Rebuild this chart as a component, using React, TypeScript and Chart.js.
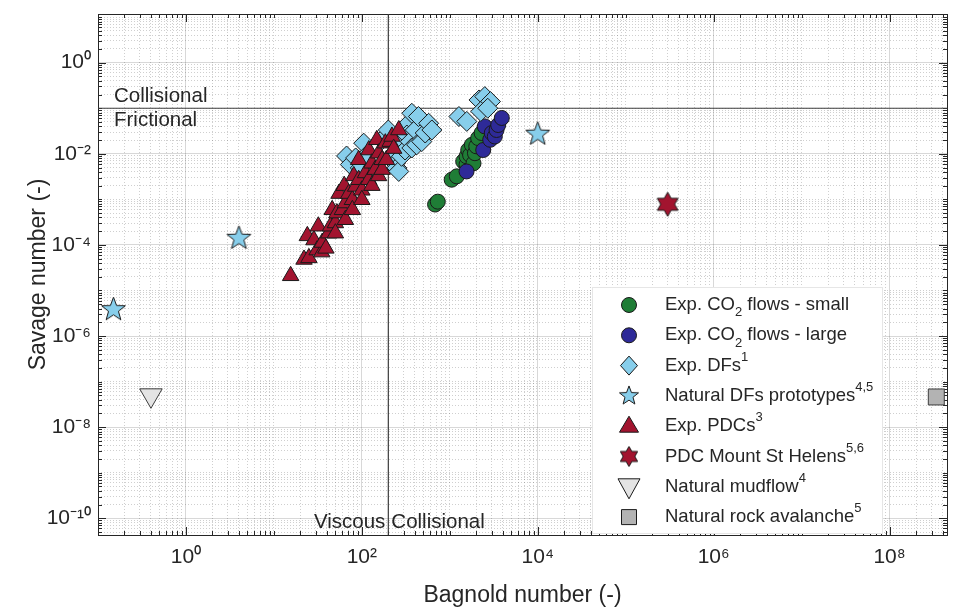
import React, { useEffect, useRef } from 'react';
import { Chart, registerables } from 'chart.js';

Chart.register(...registerables);

// ---------------- data ----------------
const X_MIN = 0.1;
const X_MAX = 4.5e8;
const Y_MIN = 4.3e-11;
const Y_MAX = 11.7;
const BAGNOLD_LIMIT = 200;
const SAVAGE_LIMIT = 0.1;

const co2SmallX = [680, 730, 1050, 1200, 1420, 1550, 1550, 1620, 1700, 1780, 1860, 1930, 2000, 2100, 2300];
const co2SmallY = [7.7e-4, 8.9e-4, 2.7e-3, 3.2e-3, 6.8e-3, 5.8e-3, 8.8e-3, 0.0121, 9.4e-3, 0.0157, 6.2e-3, 0.0103, 0.0146, 0.0221, 0.0286];

const co2LargeX = [1550, 2400, 2500, 2880, 3000, 3250, 3400, 3550, 3900];
const co2LargeY = [4.1e-3, 0.0121, 0.0399, 0.0203, 0.0286, 0.024, 0.0333, 0.0428, 0.0611];

const expDFsX = [67, 74, 85, 96, 105, 110, 170, 200, 220, 240, 250, 263, 275, 283, 310, 325, 325, 355, 370, 370, 405, 420, 440, 480, 525, 575, 625, 1270, 1560, 2150, 2500, 2900, 2250, 2700];
const expDFsY = [8.95e-3, 5.8e-3, 8.1e-3, 4.9e-3, 0.0171, 8.8e-3, 0.0203, 0.0333, 7.4e-3, 6.2e-3, 4.9e-3, 4.1e-3, 0.0171, 8.8e-3, 0.0121, 0.0428, 0.0258, 0.0185, 0.0775, 0.0134, 0.0333, 0.0157, 0.0658, 0.0185, 0.0286, 0.0467, 0.0333, 0.0658, 0.0514, 0.152, 0.18, 0.14, 0.085, 0.1];

const naturalDFsX = [0.15, 4, 1e4];
const naturalDFsY = [3.8e-6, 1.4e-4, 0.027];

const expPDCsX = [15.5, 22, 25, 24, 28.5, 31, 32, 35, 35.5, 39, 42, 44, 46, 50, 50, 52, 55, 60, 63, 65, 65, 71, 78, 78, 81, 85, 92, 92, 100, 100, 110, 120, 120, 130, 130, 142, 148, 155, 155, 170, 170, 185, 190, 210, 220, 230, 263];
const expPDCsY = [2.1e-5, 4.8e-5, 5.2e-5, 1.58e-4, 1.28e-4, 7.7e-5, 2.57e-4, 6.95e-5, 1.13e-4, 8.4e-5, 1.81e-4, 2.57e-4, 5.9e-4, 3.03e-4, 1.81e-4, 5e-4, 1.34e-3, 5.9e-4, 2e-3, 8.3e-4, 3.57e-4, 1.34e-3, 9.8e-4, 5.9e-4, 3.27e-3, 1.92e-3, 2.7e-3, 7.4e-3, 1.58e-3, 9.8e-4, 3.8e-3, 2.7e-3, 0.0121, 6.2e-3, 2e-3, 4.5e-3, 0.0203, 0.0103, 3.27e-3, 7.4e-3, 4.5e-3, 0.0171, 7.4e-3, 0.0185, 0.024, 0.013, 0.0333];

const stHelensX = [3e5];
const stHelensY = [7.8e-4];

const mudflowX = [0.4];
const mudflowY = [5e-8];

const rockAvalancheX = [3.4e8];
const rockAvalancheY = [4.6e-8];

// ---------------- styles ----------------
const FONT = '"Liberation Sans", Arial, Helvetica, sans-serif';
const INK = '#262626';
const EDGE = '#1a1a1a';
const C_GREEN = '#1f7d36';
const C_BLUE = '#2e2a98';
const C_LIGHTBLUE = '#87ceeb';
const C_RED = '#a2142f';
const C_MUD = '#e4e4e4';
const C_ROCK = '#b3b3b3';

const SUP: Record<string, string> = { '0': '⁰', '1': '¹', '2': '²', '3': '³', '4': '⁴', '5': '⁵', '6': '⁶', '7': '⁷', '8': '⁸', '9': '⁹', '-': '⁻' };

function isDecade(v: number) {
  const l = Math.log10(v);
  return Math.abs(l - Math.round(l)) < 1e-6;
}
function isMajor(v: number) {
  if (!isDecade(v)) return false;
  return Math.abs(Math.round(Math.log10(v)) % 2) === 0;
}
function logTicks(min: number, max: number) {
  const out: number[] = [];
  for (let e = Math.floor(Math.log10(min)); e <= Math.ceil(Math.log10(max)); e++) {
    for (let m = 1; m <= 9; m++) {
      const v = m * Math.pow(10, e);
      if (v >= min * 0.999999 && v <= max * 1.000001) out.push(v);
    }
  }
  return out;
}
function tickLabel(v: number) {
  if (!isMajor(v)) return '';
  const e = String(Math.round(Math.log10(v)));
  return '10' + e.split('').map((c) => SUP[c]).join('');
}

function pts(xs: number[], ys: number[]) {
  return xs.map((x, i) => ({ x, y: ys[i] }));
}

function makeStar(n: number, outer: number, inner: number, fill: string) {
  const size = Math.ceil(outer * 2 + 4);
  const c = document.createElement('canvas');
  c.width = size;
  c.height = size;
  const g = c.getContext('2d')!;
  const cx = size / 2;
  g.beginPath();
  for (let i = 0; i < 2 * n; i++) {
    const r = i % 2 === 0 ? outer : inner;
    const a = -Math.PI / 2 + (i * Math.PI) / n;
    const px = cx + r * Math.cos(a);
    const py = cx + r * Math.sin(a);
    if (i === 0) g.moveTo(px, py);
    else g.lineTo(px, py);
  }
  g.closePath();
  g.fillStyle = fill;
  g.fill();
  g.lineWidth = 1;
  g.strokeStyle = EDGE;
  g.stroke();
  return c;
}

type Seg = { t: string; m?: 'sup' | 'sub' };

function drawSegs(ctx: CanvasRenderingContext2D, segs: Seg[], x: number, y: number, size: number, align: 'left' | 'right' = 'left') {
  const small = Math.round(size * 0.68);
  const widths = segs.map((s) => {
    ctx.font = `${s.m ? small : size}px ${FONT}`;
    return ctx.measureText(s.t).width;
  });
  const total = widths.reduce((a, b) => a + b, 0);
  let cx = align === 'left' ? x : x - total;
  ctx.textAlign = 'left';
  ctx.textBaseline = 'middle';
  segs.forEach((s, i) => {
    ctx.font = `${s.m ? small : size}px ${FONT}`;
    const dy = s.m === 'sup' ? -size * 0.45 : s.m === 'sub' ? size * 0.42 : 0;
    ctx.fillText(s.t, cx, y + dy);
    cx += widths[i];
  });
}

export default function App() {
  const ref = useRef<HTMLCanvasElement>(null);

  useEffect(() => {
    if (!ref.current) return;
    const starBig = makeStar(5, 12.5, 5.2, C_LIGHTBLUE);
    const starLegend = makeStar(5, 10, 4.2, C_LIGHTBLUE);
    const hexBig = makeStar(6, 12, 6.9, C_RED);
    const hexLegend = makeStar(6, 10, 5.8, C_RED);

    const legendItems: { segs: Seg[]; draw: (ctx: CanvasRenderingContext2D, x: number, y: number) => void }[] = [
      {
        segs: [{ t: 'Exp. CO' }, { t: '2', m: 'sub' }, { t: ' flows - small' }],
        draw: (ctx, x, y) => { ctx.beginPath(); ctx.arc(x, y, 7.5, 0, Math.PI * 2); ctx.fillStyle = C_GREEN; ctx.fill(); ctx.stroke(); },
      },
      {
        segs: [{ t: 'Exp. CO' }, { t: '2', m: 'sub' }, { t: ' flows - large' }],
        draw: (ctx, x, y) => { ctx.beginPath(); ctx.arc(x, y, 7.5, 0, Math.PI * 2); ctx.fillStyle = C_BLUE; ctx.fill(); ctx.stroke(); },
      },
      {
        segs: [{ t: 'Exp. DFs' }, { t: '1', m: 'sup' }],
        draw: (ctx, x, y) => {
          ctx.beginPath(); ctx.moveTo(x, y - 9.5); ctx.lineTo(x + 8.5, y); ctx.lineTo(x, y + 9.5); ctx.lineTo(x - 8.5, y); ctx.closePath();
          ctx.fillStyle = C_LIGHTBLUE; ctx.fill(); ctx.stroke();
        },
      },
      {
        segs: [{ t: 'Natural DFs prototypes' }, { t: '4,5', m: 'sup' }],
        draw: (ctx, x, y) => { ctx.drawImage(starLegend, x - starLegend.width / 2, y - starLegend.height / 2); },
      },
      {
        segs: [{ t: 'Exp. PDCs' }, { t: '3', m: 'sup' }],
        draw: (ctx, x, y) => {
          ctx.beginPath(); ctx.moveTo(x, y - 10); ctx.lineTo(x + 9.5, y + 6); ctx.lineTo(x - 9.5, y + 6); ctx.closePath();
          ctx.fillStyle = C_RED; ctx.fill(); ctx.stroke();
        },
      },
      {
        segs: [{ t: 'PDC Mount St Helens' }, { t: '5,6', m: 'sup' }],
        draw: (ctx, x, y) => { ctx.drawImage(hexLegend, x - hexLegend.width / 2, y - hexLegend.height / 2); },
      },
      {
        segs: [{ t: 'Natural mudflow' }, { t: '4', m: 'sup' }],
        draw: (ctx, x, y) => {
          ctx.beginPath(); ctx.moveTo(x - 11, y - 8); ctx.lineTo(x + 11, y - 8); ctx.lineTo(x, y + 12); ctx.closePath();
          ctx.fillStyle = C_MUD; ctx.fill(); ctx.stroke();
        },
      },
      {
        segs: [{ t: 'Natural rock avalanche' }, { t: '5', m: 'sup' }],
        draw: (ctx, x, y) => { ctx.beginPath(); ctx.rect(x - 7.5, y - 7.5, 15, 15); ctx.fillStyle = C_ROCK; ctx.fill(); ctx.stroke(); },
      },
    ];

    const framePlugin = {
      id: 'frame',
      beforeDatasetsDraw(chart: any) {
        const { ctx, chartArea: a, scales } = chart;
        ctx.save();
        ctx.strokeStyle = INK;
        ctx.lineWidth = 1;
        ctx.beginPath();
        for (const t of scales.x.ticks) {
          const px = Math.round(scales.x.getPixelForValue(t.value)) + 0.5;
          if (px <= a.left + 1 || px >= a.right - 1) continue;
          const len = isMajor(t.value) ? 8 : 4;
          ctx.moveTo(px, a.bottom); ctx.lineTo(px, a.bottom - len);
          ctx.moveTo(px, a.top); ctx.lineTo(px, a.top + len);
        }
        for (const t of scales.y.ticks) {
          const py = Math.round(scales.y.getPixelForValue(t.value)) + 0.5;
          if (py <= a.top + 1 || py >= a.bottom - 1) continue;
          const len = isMajor(t.value) ? 8 : 4;
          ctx.moveTo(a.left, py); ctx.lineTo(a.left + len, py);
          ctx.moveTo(a.right, py); ctx.lineTo(a.right - len, py);
        }
        ctx.stroke();
        ctx.strokeRect(Math.round(a.left) + 0.5, Math.round(a.top) + 0.5, Math.round(a.right - a.left), Math.round(a.bottom - a.top));
        ctx.restore();
      },
      afterDatasetsDraw(chart: any) {
        const { ctx, chartArea: a, scales } = chart;
        ctx.save();
        ctx.fillStyle = INK;
        const ly = scales.y.getPixelForValue(SAVAGE_LIMIT);
        const lx = scales.x.getPixelForValue(BAGNOLD_LIMIT);
        drawSegs(ctx, [{ t: 'Collisional' }], a.left + 16, ly - 12, 20.5);
        drawSegs(ctx, [{ t: 'Frictional' }], a.left + 16, ly + 12, 20.5);
        drawSegs(ctx, [{ t: 'Viscous' }], lx - 3, a.bottom - 13, 20.5, 'right');
        drawSegs(ctx, [{ t: 'Collisional' }], lx + 3, a.bottom - 13, 20.5);

        // legend
        const bx = a.right - 355;
        const by = a.top + 273;
        const bw = 290;
        const bh = 246;
        ctx.fillStyle = '#ffffff';
        ctx.fillRect(bx, by, bw, bh);
        ctx.strokeStyle = '#e6e6e6';
        ctx.lineWidth = 1;
        ctx.strokeRect(bx + 0.5, by + 0.5, bw, bh);
        legendItems.forEach((it, i) => {
          const y = by + 18 + i * 30.3;
          ctx.strokeStyle = EDGE;
          ctx.lineWidth = 1;
          it.draw(ctx, bx + 37, y);
          ctx.fillStyle = INK;
          drawSegs(ctx, it.segs, bx + 73, y, 18.5);
        });
        ctx.restore();
      },
    };

    const scaleCommon = (min: number, max: number) => ({
      type: 'logarithmic' as const,
      min,
      max,
      afterBuildTicks: (s: any) => {
        s.ticks = logTicks(min, max).map((v) => ({ value: v }));
      },
      grid: {
        drawTicks: false,
        lineWidth: 1,
        color: (c: any) => (c.tick && isMajor(c.tick.value) ? 'rgba(38,38,38,0.18)' : 'rgba(38,38,38,0.22)'),
      },
      border: {
        display: false,
        dash: (c: any) => (c.tick && isMajor(c.tick.value) ? [] : [1, 2]),
      },
    });

    const lineDs = (data: { x: number; y: number }[]) => ({
      type: 'line' as const,
      data,
      showLine: true,
      borderColor: '#3c3c3c',
      borderWidth: 1.2,
      pointRadius: 0,
      fill: false,
      order: 100,
    });

    const chart = new Chart(ref.current, {
      type: 'scatter',
      data: {
        datasets: [
          lineDs([{ x: X_MIN, y: SAVAGE_LIMIT }, { x: X_MAX, y: SAVAGE_LIMIT }]),
          lineDs([{ x: BAGNOLD_LIMIT, y: Y_MIN }, { x: BAGNOLD_LIMIT, y: Y_MAX }]),
          {
            label: 'Exp. CO2 flows - small',
            data: pts(co2SmallX, co2SmallY),
            pointStyle: 'circle', pointRadius: 7.5,
            backgroundColor: C_GREEN, borderColor: EDGE, borderWidth: 1, order: 10,
          },
          {
            label: 'Exp. CO2 flows - large',
            data: pts(co2LargeX, co2LargeY),
            pointStyle: 'circle', pointRadius: 7.5,
            backgroundColor: C_BLUE, borderColor: EDGE, borderWidth: 1, order: 9,
          },
          {
            label: 'Exp. DFs',
            data: pts(expDFsX, expDFsY),
            pointStyle: 'rectRot', pointRadius: 10,
            backgroundColor: C_LIGHTBLUE, borderColor: EDGE, borderWidth: 1, order: 8,
          },
          {
            label: 'Natural DFs prototypes',
            data: pts(naturalDFsX, naturalDFsY),
            pointStyle: starBig, pointRadius: 12,
            backgroundColor: C_LIGHTBLUE, borderColor: EDGE, borderWidth: 1, order: 7,
          },
          {
            label: 'Exp. PDCs',
            data: pts(expPDCsX, expPDCsY),
            pointStyle: 'triangle', pointRadius: 9.5,
            backgroundColor: C_RED, borderColor: EDGE, borderWidth: 1, order: 6,
          },
          {
            label: 'PDC Mount St Helens',
            data: pts(stHelensX, stHelensY),
            pointStyle: hexBig, pointRadius: 12,
            backgroundColor: C_RED, borderColor: EDGE, borderWidth: 1, order: 5,
          },
          {
            label: 'Natural mudflow',
            data: pts(mudflowX, mudflowY),
            pointStyle: 'triangle', pointRotation: 180, pointRadius: 13,
            backgroundColor: C_MUD, borderColor: '#3c3c3c', borderWidth: 1, order: 4,
          },
          {
            label: 'Natural rock avalanche',
            data: pts(rockAvalancheX, rockAvalancheY),
            pointStyle: 'rect', pointRadius: 11.3,
            backgroundColor: C_ROCK, borderColor: '#3c3c3c', borderWidth: 1, order: 3,
            clip: false,
          },
        ] as any,
      },
      options: {
        responsive: false,
        animation: false,
        layout: { padding: { top: 10, right: 9, left: 0, bottom: 0 } },
        plugins: {
          legend: { display: false },
          tooltip: { enabled: false },
        },
        scales: {
          x: {
            ...scaleCommon(X_MIN, X_MAX),
            position: 'bottom',
            ticks: {
              autoSkip: false, maxRotation: 0, minRotation: 0, padding: 10,
              color: INK, font: { family: FONT, size: 21 },
              callback: (v: any) => tickLabel(Number(v)),
            },
            title: {
              display: true, text: 'Bagnold number (-)', color: INK,
              font: { family: FONT, size: 23 }, padding: { top: 0, bottom: 1 },
            },
            afterFit: (s: any) => { s.height = 75; s.paddingLeft = 0; s.paddingRight = 0; },
          },
          y: {
            ...scaleCommon(Y_MIN, Y_MAX),
            position: 'left',
            ticks: {
              autoSkip: false, padding: 7,
              color: INK, font: { family: FONT, size: 21 },
              callback: (v: any) => tickLabel(Number(v)),
            },
            title: {
              display: true, text: 'Savage number (-)', color: INK,
              font: { family: FONT, size: 23 }, padding: { top: 25, bottom: 0 },
            },
            afterFit: (s: any) => { s.width = 98; s.paddingTop = 0; s.paddingBottom = 0; },
          },
        } as any,
      },
      plugins: [framePlugin],
    } as any);
    return () => chart.destroy();
  }, []);

  return (
    <div style={{ position: 'fixed', left: 0, top: 0, width: 961, height: 610, background: '#ffffff' }}>
      <canvas ref={ref} width={961} height={610} style={{ display: 'block', width: 961, height: 610 }} />
    </div>
  );
}
